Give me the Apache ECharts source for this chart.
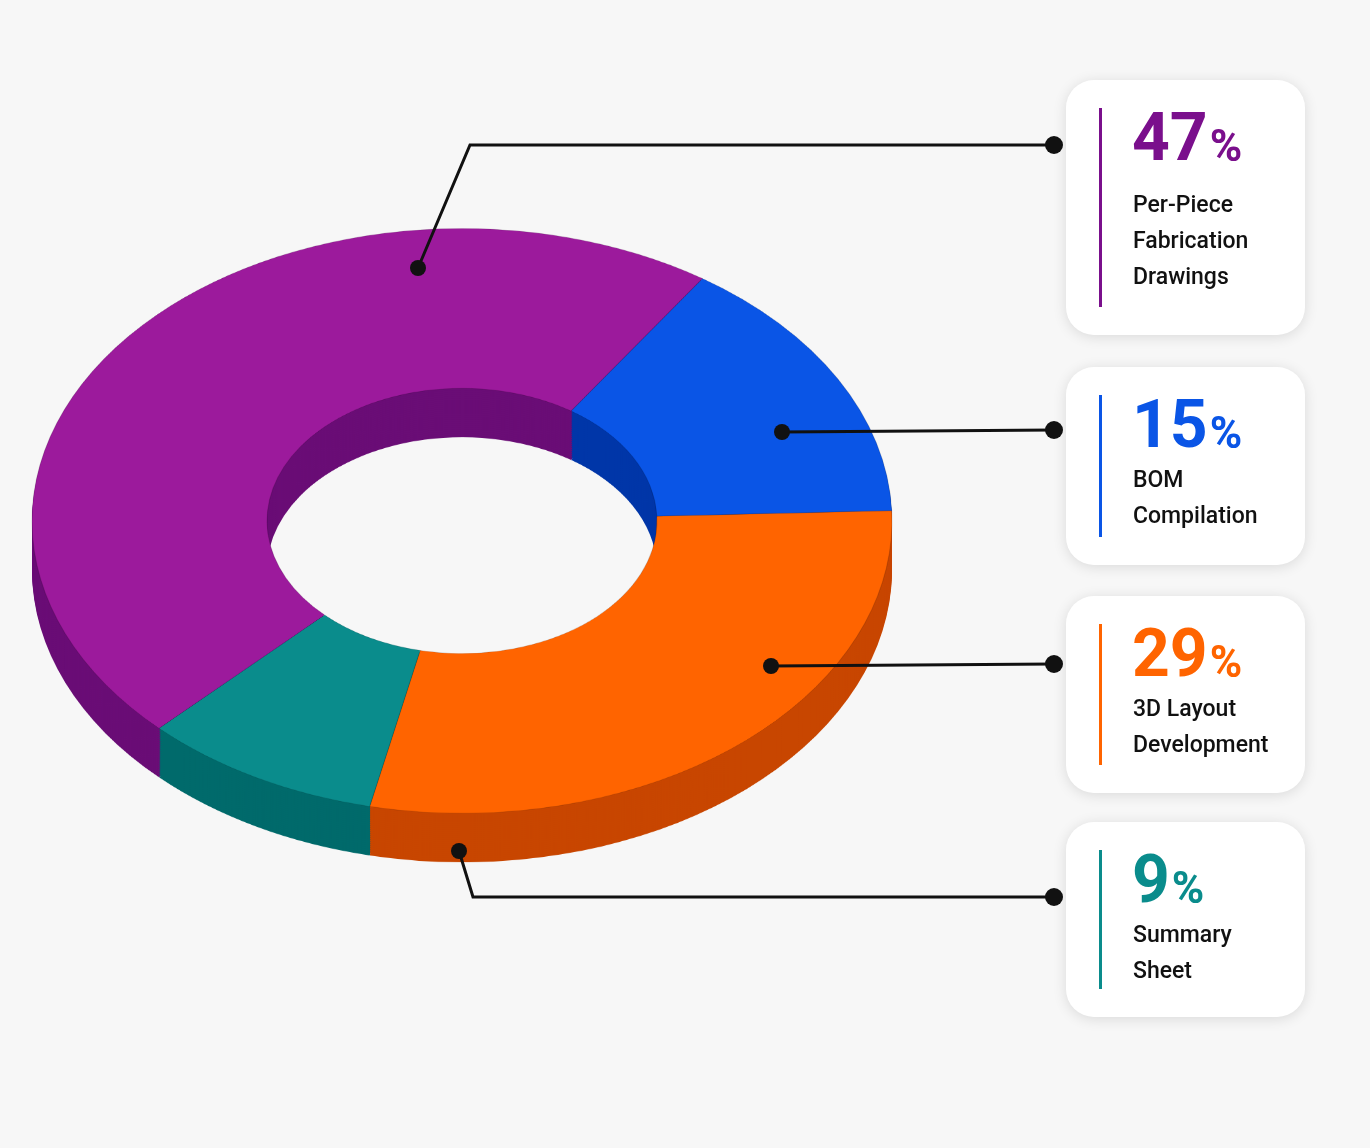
<!DOCTYPE html>
<html><head><meta charset="utf-8">
<script src="https://cdn.jsdelivr.net/npm/echarts@6/dist/echarts.min.js"></script>
<style>
body{margin:0;background:#f7f7f7;font-family:Roboto,sans-serif}
#pie{position:absolute;left:0;top:0;width:930px;height:1400px;transform-origin:0 0;transform:scaleY(0.68)}
#over{position:absolute;left:0;top:0;width:1370px;height:1148px}
</style></head>
<body>
<div id="pie"></div>
<div id="over"></div>
<script>
// clockwise from the top-right
var names = ['BOM Compilation', '3D Layout Development', 'Summary Sheet', 'Per-Piece Fabrication Drawings'];
var values = [15, 29, 9, 47];
var topColors = ['#0a55e6', '#ff6400', '#0a8c8c', '#9c1a9c'];
var sideColors = ['#0036a8', '#c84600', '#006a6b', '#6a0d76'];

// cards, top to bottom
var cardPct = ['47', '15', '29', '9'];
var cardText = ['Per-Piece\nFabrication\nDrawings', 'BOM\nCompilation', '3D Layout\nDevelopment', 'Summary\nSheet'];
var cardColor = ['#7a0f8c', '#0a55e6', '#ff6400', '#0a8c8c'];

var pieChart = echarts.init(document.getElementById('pie'));
var cx = 462, cy = 766, depth = 72;
var series = [];
for (var k = depth; k >= 2; k -= 3) {
	series.push({
		type: 'pie', silent: true, animation: false,
		center: [cx, cy + k], radius: [195, 430], startAngle: 56,
		label: { show: false },
		itemStyle: { borderWidth: 0 },
		data: values.map(function (v, i) {
			return { value: v, name: names[i], itemStyle: { color: sideColors[i] } };
		})
	});
}
series.push({
	type: 'pie', silent: true, animation: false,
	center: [cx, cy], radius: [195, 430], startAngle: 56,
	label: { show: false },
	itemStyle: { borderColor: 'rgba(0,0,0,0.15)', borderWidth: 1 },
	data: values.map(function (v, i) {
		return { value: v, name: names[i], itemStyle: { color: topColors[i] } };
	})
});
pieChart.setOption({ series: series });

var over = echarts.init(document.getElementById('over'));
var cards = [[80, 255], [367, 198], [596, 197], [822, 195]];
var g = [];
cards.forEach(function (c, i) {
	g.push({ type: 'rect', shape: { x: 1066, y: c[0], width: 239, height: c[1], r: 28 },
		style: { fill: '#fff', shadowBlur: 14, shadowColor: 'rgba(0,0,0,0.12)', shadowOffsetY: 2 } });
	g.push({ type: 'rect', shape: { x: 1099, y: c[0] + 28, width: 3, height: c[1] - 56 },
		style: { fill: cardColor[i] } });
	g.push({ type: 'text', x: 1132, y: c[0] + 30, style: {
		text: '{a|' + cardPct[i] + '}{b|%}', rich: {
			a: { fontSize: 66, fontWeight: 'bold', fill: cardColor[i], fontFamily: 'Roboto' },
			b: { fontSize: 44, fontWeight: 'bold', fill: cardColor[i], fontFamily: 'Roboto', padding: [14, 0, 0, 2] }
		} } });
	g.push({ type: 'text', x: 1133, y: c[0] + (i === 0 ? 108 : 96), style: {
		text: cardText[i], fontSize: 23, lineHeight: 36, fill: '#111', fontFamily: 'Roboto', fontWeight: 500 } });
});
var leaders = [
	[[418, 268], [470, 145], [1054, 145]],
	[[782, 432], [1054, 430]],
	[[771, 666], [1054, 664]],
	[[459, 851], [473, 897], [1054, 897]]
];
leaders.forEach(function (pts) {
	g.push({ type: 'polyline', shape: { points: pts }, style: { stroke: '#111', lineWidth: 3, fill: null } });
	g.push({ type: 'circle', shape: { cx: pts[0][0], cy: pts[0][1], r: 8 }, style: { fill: '#111' } });
	var e = pts[pts.length - 1];
	g.push({ type: 'circle', shape: { cx: e[0], cy: e[1], r: 9 }, style: { fill: '#111' } });
});
over.setOption({ graphic: g });
</script>
</body></html>
